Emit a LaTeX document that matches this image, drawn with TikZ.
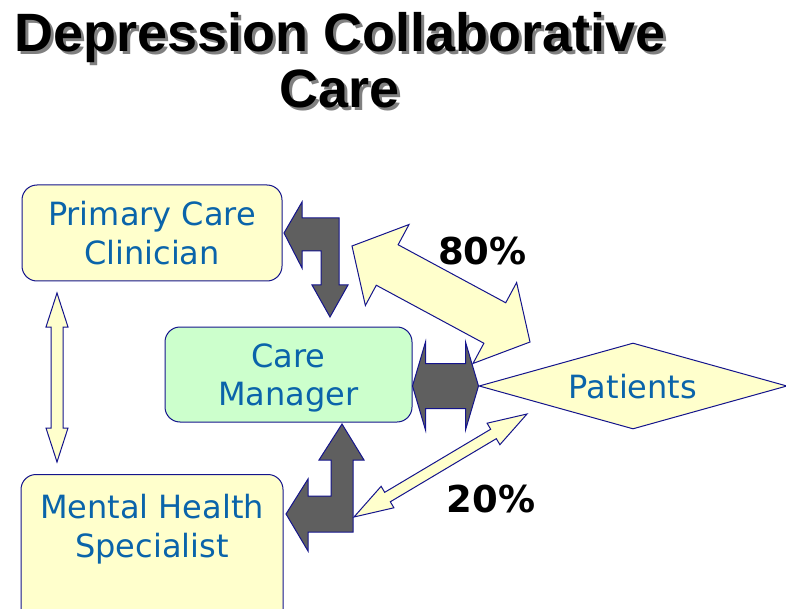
\documentclass[tikz,border=0pt]{standalone}
\usepackage{fontspec}
\newfontfamily\titlefont{Liberation Sans}
\newfontfamily\boxfont{DejaVu Sans}
\usetikzlibrary{calc,shapes.geometric}

\definecolor{boxyellow}{RGB}{255,255,204}
\definecolor{boxgreen}{RGB}{204,255,204}
\definecolor{edgeblue}{RGB}{20,20,140}
\definecolor{textblue}{RGB}{10,100,170}
\definecolor{arrowgray}{RGB}{95,95,95}
\definecolor{titleshadow}{RGB}{128,128,128}

% block arrow with two heads: style, from, to, head length, head half width, shaft half width
\newcommand{\dblarrow}[6]{%
  \draw[#1] (#2)
    -- ($(#2)!#4!(#3)!#5!90:(#3)$)
    -- ($(#2)!#4!(#3)!#6!90:(#3)$)
    -- ($(#3)!#4!(#2)!#6!-90:(#2)$)
    -- ($(#3)!#4!(#2)!#5!-90:(#2)$)
    -- (#3)
    -- ($(#3)!#4!(#2)!#5!90:(#2)$)
    -- ($(#3)!#4!(#2)!#6!90:(#2)$)
    -- ($(#2)!#4!(#3)!#6!-90:(#3)$)
    -- ($(#2)!#4!(#3)!#5!-90:(#3)$)
    -- cycle;}

\begin{document}
\begin{tikzpicture}[x=1pt, y=-1pt,
    role/.style={draw=edgeblue, line width=1pt, rounded corners=15pt},
    roletext/.style={text=textblue, font=\boxfont\fontsize{32}{38.5}\selectfont,
        align=center, inner sep=0pt, text depth=0pt},
    titletext/.style={font=\titlefont\bfseries\fontsize{54}{56}\selectfont,
        align=center, inner sep=0pt},
    pct/.style={font=\boxfont\bfseries\fontsize{37}{37}\selectfont, inner sep=0pt, anchor=base},
    grayarrow/.style={draw=edgeblue, fill=arrowgray, line width=1pt},
    palearrow/.style={draw=edgeblue, fill=boxyellow, line width=1pt}
]
\useasboundingbox (0,0) rectangle (786,609);
\clip (0,0) rectangle (786,609);

% Title
\node[titletext, text=titleshadow] (shadow) at (343,63) {Depression Collaborative\\Care};
\node[titletext] (title) at (340,60) {Depression Collaborative\\Care};

% Roles
\node[role, roletext, fill=boxyellow, minimum width=260pt, minimum height=96pt] (pcc) at (152,233) {Primary Care\\Clinician};
\node[role, roletext, fill=boxgreen, minimum width=247pt, minimum height=95pt] (cm) at (288.5,374.5) {Care\\Manager};
\node[role, fill=boxyellow, minimum width=262pt, minimum height=150pt, anchor=north] (mhs) at (152,474) {};
\node[roletext] (mhstext) at (152,526) {Mental Health\\Specialist};
\node[diamond, draw=edgeblue, fill=boxyellow, line width=1pt, aspect=3.58,
    minimum width=308pt, minimum height=86pt, roletext] (pat) at (633,386) {Patients};

% Arrow ends
\coordinate (pccdown) at (57,293);
\coordinate (mhsup) at (57,462);
\coordinate (cmright) at (cm.east |- pat.west);
\coordinate (pcctip) at (352,246);
\coordinate (pattop) at (530,342);
\coordinate (mhstip) at (354,517);
\coordinate (patlow) at (527,414);

% Clinician <-> specialist
\dblarrow{palearrow}{pccdown}{mhsup}{34pt}{11pt}{6pt}

% Care manager <-> clinician and specialist
\draw[grayarrow] (284,233) -- (302,202) -- (302,218) -- (339,218) -- (339,285)
    -- (348,285) -- (330,317) -- (312,285) -- (321,285) -- (321,251)
    -- (302,251) -- (302,268) -- cycle;
\draw[grayarrow] (286,514) -- (308,479) -- (308,496) -- (331,496) -- (331,460)
    -- (319,460) -- (342,424) -- (364,460) -- (353,460) -- (353,532)
    -- (308,532) -- (308,551) -- cycle;

% Care manager <-> patients
\dblarrow{grayarrow}{cmright}{pat.west}{13pt}{44pt}{22.5pt}

% Shares of patients
\dblarrow{palearrow}{pcctip}{pattop}{40pt}{46pt}{23pt}
\dblarrow{palearrow}{mhstip}{patlow}{39pt}{12.5pt}{5.5pt}
\node[pct] (eighty) at (482.5,265) {80\%};
\node[pct] (twenty) at (491,512) {20\%};

\end{tikzpicture}
\end{document}
